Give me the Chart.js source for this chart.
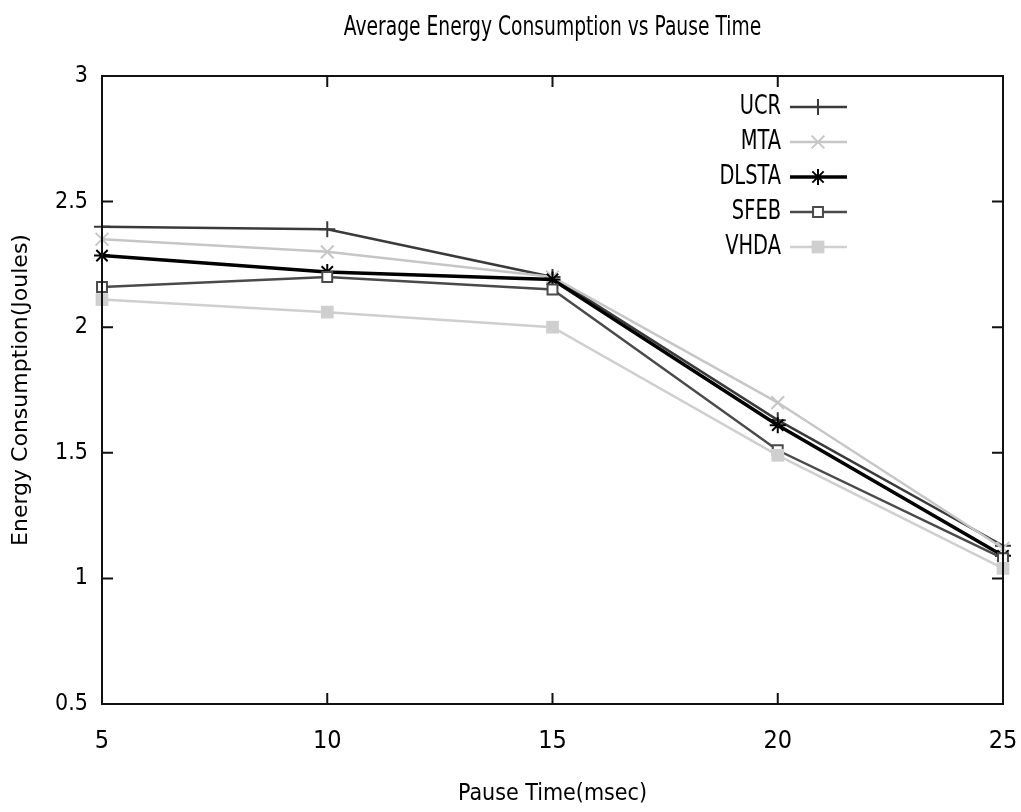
<!DOCTYPE html>
<html lang="en">
<head>
<meta charset="UTF-8">
<title>Average Energy Consumption vs Pause Time</title>
<script src="https://cdn.jsdelivr.net/npm/chart.js"></script>
<style>
  body { margin: 0; background: #fff; }
</style>
</head>
<body>
<canvas id="myChart" width="1021" height="812"></canvas>
<script>
// pause time (msec) on x, energy (Joules) on y
const pauseTimes = [5, 10, 15, 20, 25];
const ucr   = [2.40, 2.39, 2.20, 1.63, 1.13];
const mta   = [2.35, 2.30, 2.20, 1.70, 1.12];
const dlsta = [2.285, 2.22, 2.19, 1.61, 1.09];
const sfeb  = [2.16, 2.20, 2.15, 1.51, 1.08];
const vhda  = [2.11, 2.06, 2.00, 1.49, 1.04];
const yTicks = [0.5, 1, 1.5, 2, 2.5, 3];

const narrow = "'DejaVu Sans Condensed', 'Liberation Sans Narrow', sans-serif";

function pts(values) {
    return values.map((v, i) => ({ x: pauseTimes[i], y: v }));
}

function series(label, values, color, width, style, radius, fill, order) {
    return {
        label: label,
        data: pts(values),
        borderColor: color,
        borderWidth: width,
        pointStyle: style,
        pointRadius: radius,
        pointBorderColor: color,
        pointBackgroundColor: fill,
        pointBorderWidth: style === 'rect' && fill === color ? 0 : 2,
        tension: 0,
        clip: false,
        order: order
    };
}

// squeezed text, the labels in this plot are set tall and narrow
function narrowText(ctx, text, x, y, size, squeeze, align) {
    ctx.save();
    ctx.font = size + 'px ' + narrow;
    ctx.textAlign = align;
    ctx.textBaseline = 'middle';
    ctx.translate(x, y);
    ctx.scale(squeeze, 1);
    ctx.fillText(text, 0, 0);
    ctx.restore();
}

// plot frame with gnuplot-like inward ticks, key box inside top right
const framePlugin = {
    id: 'frame',
    afterDatasetsDraw(chart) {
        const { ctx, chartArea: a, scales } = chart;
        ctx.save();
        ctx.strokeStyle = '#111';
        ctx.lineWidth = 2;
        ctx.strokeRect(a.left, a.top, a.right - a.left, a.bottom - a.top);
        ctx.beginPath();
        const tl = 11;
        pauseTimes.forEach(v => {
            const x = scales.x.getPixelForValue(v);
            ctx.moveTo(x, a.bottom); ctx.lineTo(x, a.bottom - tl);
            ctx.moveTo(x, a.top); ctx.lineTo(x, a.top + tl);
        });
        yTicks.forEach(v => {
            const y = scales.y.getPixelForValue(v);
            ctx.moveTo(a.left, y); ctx.lineTo(a.left + tl, y);
            ctx.moveTo(a.right, y); ctx.lineTo(a.right - tl, y);
        });
        ctx.stroke();

        // key
        chart.data.datasets.forEach((ds, i) => {
            const y = a.top + 31 + i * 35;
            ctx.fillStyle = '#000';
            narrowText(ctx, ds.label, a.right - 222, y, 27, 0.8, 'right');
            ctx.strokeStyle = ds.borderColor;
            ctx.lineWidth = ds.borderWidth;
            ctx.beginPath();
            ctx.moveTo(a.right - 213, y);
            ctx.lineTo(a.right - 156, y);
            ctx.stroke();
            ctx.fillStyle = ds.pointBackgroundColor;
            ctx.strokeStyle = ds.pointBorderColor;
            ctx.lineWidth = ds.pointBorderWidth;
            Chart.helpers.drawPoint(ctx, {
                pointStyle: ds.pointStyle,
                radius: ds.pointRadius,
                rotation: 0,
                borderWidth: ds.pointBorderWidth
            }, a.right - 185, y);
        });

        // title, centred over the plot
        ctx.fillStyle = '#000';
        narrowText(ctx, 'Average Energy Consumption vs Pause Time', (a.left + a.right) / 2, 28, 26, 0.8, 'center');
        ctx.restore();
    }
};

const ctx = document.getElementById('myChart').getContext('2d');
new Chart(ctx, {
    type: 'line',
    data: {
        datasets: [
            series('UCR', ucr, '#3a3a3a', 2.5, 'cross', 8, '#3a3a3a', 5),
            series('MTA', mta, '#c6c6c6', 2.5, 'crossRot', 9, '#c6c6c6', 4),
            series('DLSTA', dlsta, '#000000', 3.5, 'star', 8, '#000000', 3),
            series('SFEB', sfeb, '#4a4a4a', 2.5, 'rect', 7, '#ffffff', 2),
            series('VHDA', vhda, '#cfcfcf', 2.5, 'rect', 9, '#cfcfcf', 1)
        ]
    },
    options: {
        responsive: false,
        animation: false,
        layout: { padding: { top: 76, right: 18, left: 0, bottom: 0 } },
        plugins: {
            legend: { display: false },
            tooltip: { enabled: false },
            title: { display: false }
        },
        scales: {
            x: {
                type: 'linear',
                min: 5,
                max: 25,
                grid: { display: false, drawTicks: false },
                border: { display: false },
                afterBuildTicks: s => { s.ticks = pauseTimes.map(v => ({ value: v })); },
                afterFit: s => {
                    s.height = 108;
                    s.paddingLeft = 0;
                    s.paddingRight = 0;
                },
                ticks: {
                    padding: 22,
                    color: '#000',
                    font: { family: narrow, size: 25 }
                },
                title: {
                    display: true,
                    text: 'Pause Time(msec)',
                    color: '#000',
                    font: { family: narrow, size: 23 },
                    padding: { top: 0, bottom: 4 }
                }
            },
            y: {
                min: 0.5,
                max: 3,
                grid: { display: false, drawTicks: false },
                border: { display: false },
                afterBuildTicks: s => { s.ticks = yTicks.map(v => ({ value: v })); },
                afterFit: s => { s.width = 102; },
                ticks: {
                    padding: 14,
                    color: '#000',
                    font: { family: narrow, size: 23 },
                    callback: v => String(v)
                },
                title: {
                    display: true,
                    text: 'Energy Consumption(Joules)',
                    color: '#000',
                    font: { family: 'DejaVu Sans', size: 22 },
                    padding: { top: 8, bottom: 0 }
                }
            }
        }
    },
    plugins: [framePlugin]
});
</script>
</body>
</html>
